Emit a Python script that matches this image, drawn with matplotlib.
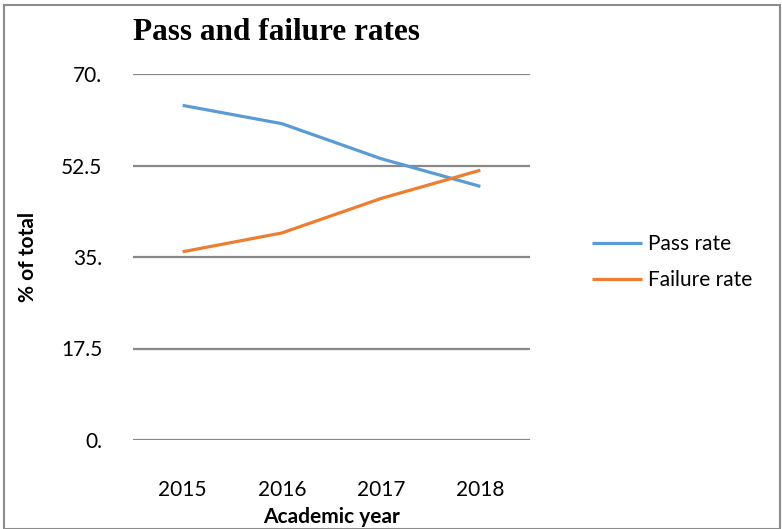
import numpy as np
import matplotlib
matplotlib.use("Agg")
from matplotlib import pyplot as plt
from matplotlib.patches import Rectangle

# 数据
years = ["2015", "2016", "2017", "2018"]
pass_rate = [64.0, 60.5, 53.8, 48.5]
failure_rate = [36.0, 39.6, 46.2, 51.6]
y_ticks = [0, 17.5, 35, 52.5, 70]
y_tick_labels = ["0.", "17.5", "35.", "52.5", "70."]

fig = plt.figure(figsize=(7.82, 5.29), dpi=100)
ax = fig.add_axes([133 / 782, 1 - 440 / 529, 397 / 782, 366 / 529])

x = np.arange(len(years))
ax.plot(x, pass_rate, color="#5B9BD5", lw=2.3, label="Pass rate", solid_capstyle="butt")
ax.plot(x, failure_rate, color="#ED7D31", lw=2.3, label="Failure rate", solid_capstyle="butt")

ax.set_xlim(-0.5, len(years) - 0.5)
ax.set_ylim(0, 70)
ax.set_yticks(y_ticks)
ax.set_yticklabels(y_tick_labels)
ax.set_xticks(x)
ax.set_xticklabels(years)
for s in ax.spines.values():
    s.set_visible(False)
ax.tick_params(length=0, labelsize=15)
ax.tick_params(axis="y", pad=22)
ax.tick_params(axis="x", pad=29)
for lab in ax.get_xticklabels() + ax.get_yticklabels():
    lab.set_family("Lato")
ax.yaxis.grid(True, color="#888888", lw=1.6)
ax.set_axisbelow(True)

ax.set_xlabel("Academic year", family="Lato", fontweight="bold", fontsize=15)
ax.xaxis.set_label_coords(0.5, -0.183)
ax.set_ylabel("% of total", family="Lato", fontweight="bold", fontsize=15)
ax.yaxis.set_label_coords(-0.24, 0.5)

fig.text(133 / 782, 1 - 32 / 529, "Pass and failure rates", family="Liberation Serif",
         fontweight="bold", fontsize=22.5, va="center", ha="left")

leg = ax.legend(loc="center left", bbox_to_anchor=(573 / 782, 1 - 262 / 529),
                bbox_transform=fig.transFigure, frameon=False, handlelength=2.4,
                handletextpad=0.3, labelspacing=0.75, prop={"family": "Lato", "size": 15})

# 外边框
fig.patches.append(Rectangle((4 / 782, 0), 776 / 782, 1 - 5 / 529, transform=fig.transFigure,
                             fill=False, edgecolor="#8c8c8c", lw=1.5))

fig.savefig("out.png", dpi=100)
